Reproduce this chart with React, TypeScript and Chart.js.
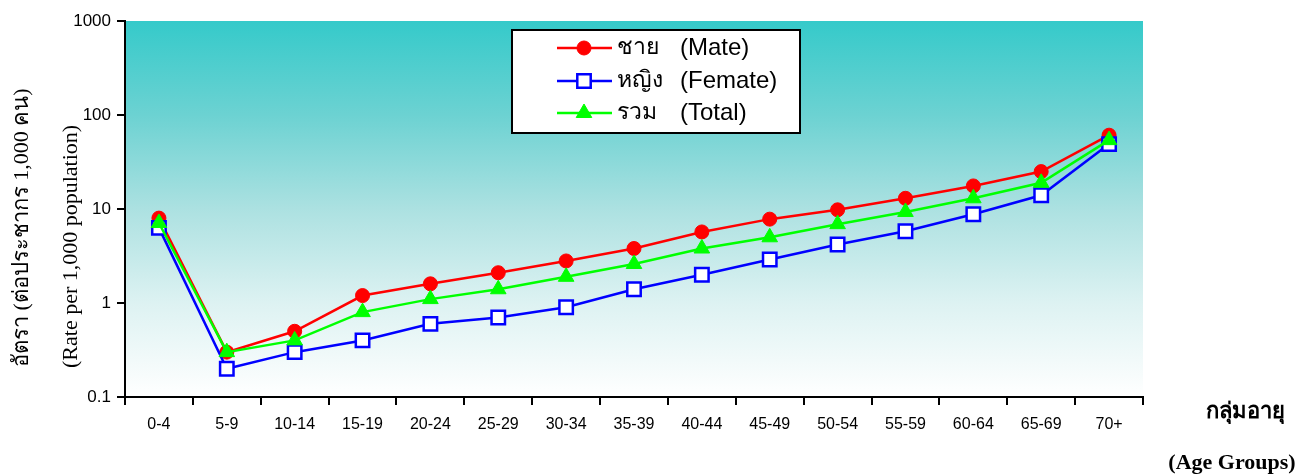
import React, { useEffect, useRef } from 'react';
import { Chart, registerables } from 'chart.js';

Chart.register(...registerables);

const categories = ['0-4', '5-9', '10-14', '15-19', '20-24', '25-29', '30-34', '35-39', '40-44', '45-49', '50-54', '55-59', '60-64', '65-69', '70+'];
const maleValues = [8, 0.3, 0.5, 1.2, 1.6, 2.1, 2.8, 3.8, 5.7, 7.8, 9.8, 13, 17.6, 25, 61];
const femaleValues = [6.3, 0.2, 0.3, 0.4, 0.6, 0.7, 0.9, 1.4, 2.0, 2.9, 4.2, 5.8, 8.8, 14, 49];
const totalValues = [7.1, 0.3, 0.4, 0.8, 1.1, 1.4, 1.9, 2.6, 3.8, 5.0, 6.9, 9.3, 13, 19, 54];
const yTickValues = [0.1, 1, 10, 100, 1000];
const legendThai = ['ชาย', 'หญิง', 'รวม'];
const legendEnglish = ['(Mate)', '(Femate)', '(Total)'];
const yTitleThai = 'อัตรา (ต่อประชากร 1,000 คน)';
const yTitleEnglish = '(Rate per 1,000 population)';
const xTitleThai = 'กลุ่มอายุ';
const xTitleEnglish = '(Age Groups)';

const SANS = '"Liberation Sans", Arial, "Noto Sans", sans-serif';
const SERIF = '"Liberation Serif", "Times New Roman", "DejaVu Serif", serif';

function drawMarker(ctx: CanvasRenderingContext2D, style: string, x: number, y: number, r: number, fill: string, stroke: string, bw: number) {
  ctx.save();
  ctx.beginPath();
  if (style === 'circle') {
    ctx.arc(x, y, r, 0, Math.PI * 2);
  } else if (style === 'rect') {
    const s = Math.SQRT1_2 * r;
    ctx.rect(x - s, y - s, 2 * s, 2 * s);
  } else {
    let rad = 0;
    ctx.moveTo(x + Math.sin(rad) * r, y - Math.cos(rad) * r);
    rad += (2 * Math.PI) / 3;
    ctx.lineTo(x + Math.sin(rad) * r, y - Math.cos(rad) * r);
    rad += (2 * Math.PI) / 3;
    ctx.lineTo(x + Math.sin(rad) * r, y - Math.cos(rad) * r);
    ctx.closePath();
  }
  ctx.fillStyle = fill;
  ctx.fill();
  ctx.lineWidth = bw;
  ctx.strokeStyle = stroke;
  ctx.stroke();
  ctx.restore();
}

const backgroundPlugin = {
  id: 'gradientBg',
  beforeDraw(chart: any) {
    const { ctx, chartArea: a } = chart;
    const g = ctx.createLinearGradient(0, a.top, 0, a.bottom);
    g.addColorStop(0, '#35CACA');
    g.addColorStop(0.25, '#6CD2D2');
    g.addColorStop(0.5, '#ACE1E1');
    g.addColorStop(0.75, '#DDF2F2');
    g.addColorStop(1, '#FFFFFF');
    ctx.save();
    ctx.fillStyle = g;
    ctx.fillRect(a.left, a.top, a.right - a.left, a.bottom - a.top);
    ctx.restore();
  },
};

const decorPlugin = {
  id: 'decor',
  afterDraw(chart: any) {
    const { ctx } = chart;
    ctx.save();
    // Legend box
    const bx = 512, by = 30, bw = 288, bh = 103;
    ctx.fillStyle = '#FFFFFF';
    ctx.fillRect(bx, by, bw, bh);
    ctx.lineWidth = 2;
    ctx.strokeStyle = '#000000';
    ctx.strokeRect(bx, by, bw, bh);
    const rows = [48, 81, 113];
    chart.data.datasets.forEach((ds: any) => {
      const y = rows[ds.legendRow];
      ctx.beginPath();
      ctx.moveTo(557, y);
      ctx.lineTo(612, y);
      ctx.lineWidth = 2.5;
      ctx.strokeStyle = ds.borderColor;
      ctx.stroke();
      drawMarker(ctx, ds.pointStyle, 584, y, ds.pointRadius, ds.pointBackgroundColor, ds.pointBorderColor, ds.pointBorderWidth);
      ctx.fillStyle = '#000000';
      ctx.textAlign = 'left';
      ctx.textBaseline = 'middle';
      ctx.font = `23px ${SANS}`;
      ctx.fillText(legendThai[ds.legendRow], 617, y);
      ctx.font = `24px ${SANS}`;
      ctx.fillText(legendEnglish[ds.legendRow], 680, y);
    });

    // Y axis titles (rotated)
    ctx.fillStyle = '#000000';
    ctx.font = `22px ${SERIF}`;
    ctx.textAlign = 'left';
    ctx.textBaseline = 'middle';
    ctx.save();
    ctx.translate(22, 367);
    ctx.rotate(-Math.PI / 2);
    ctx.fillText(yTitleThai, 0, 0);
    ctx.restore();
    ctx.save();
    ctx.translate(71, 368);
    ctx.rotate(-Math.PI / 2);
    ctx.fillText(yTitleEnglish, 0, 0);
    ctx.restore();

    // X axis titles
    ctx.font = `bold 22px ${SERIF}`;
    ctx.textAlign = 'center';
    ctx.fillText(xTitleThai, 1245, 412);
    ctx.fillText(xTitleEnglish, 1232, 463);
    ctx.restore();
  },
};

export default function App() {
  const ref = useRef<HTMLCanvasElement | null>(null);

  useEffect(() => {
    if (!ref.current) return;
    const chart = new Chart(ref.current, {
      type: 'line',
      data: {
        labels: categories,
        datasets: [
          {
            label: legendThai[0],
            data: maleValues,
            borderColor: '#FF0000',
            backgroundColor: '#FF0000',
            pointBackgroundColor: '#FF0000',
            pointBorderColor: '#FF0000',
            pointBorderWidth: 1,
            pointStyle: 'circle',
            pointRadius: 7,
            borderWidth: 2.5,
            tension: 0,
            order: 2,
            legendRow: 0,
          } as any,
          {
            label: legendThai[1],
            data: femaleValues,
            borderColor: '#0000FF',
            backgroundColor: '#0000FF',
            pointBackgroundColor: '#FFFFFF',
            pointBorderColor: '#0000FF',
            pointBorderWidth: 2.5,
            pointStyle: 'rect',
            pointRadius: 9.5,
            borderWidth: 2.5,
            tension: 0,
            order: 1,
            legendRow: 1,
          } as any,
          {
            label: legendThai[2],
            data: totalValues,
            borderColor: '#00FF00',
            backgroundColor: '#00FF00',
            pointBackgroundColor: '#00FF00',
            pointBorderColor: '#00FF00',
            pointBorderWidth: 1,
            pointStyle: 'triangle',
            pointRadius: 9,
            borderWidth: 2.5,
            tension: 0,
            order: 0,
            legendRow: 2,
          } as any,
        ],
      },
      options: {
        animation: false,
        responsive: false,
        devicePixelRatio: 1,
        layout: { padding: { left: 0, top: 21, right: 171, bottom: 0 } },
        plugins: {
          legend: { display: false },
          tooltip: { enabled: false },
          title: { display: false },
        },
        scales: {
          x: {
            type: 'category',
            offset: true,
            grid: {
              offset: true,
              drawOnChartArea: false,
              drawTicks: true,
              tickLength: 8,
              color: '#000000',
              lineWidth: 2,
            },
            border: { display: true, color: '#000000', width: 2 },
            ticks: {
              color: '#000000',
              font: { family: SANS, size: 16 },
              padding: 10,
              maxRotation: 0,
              autoSkip: false,
            },
            afterFit: (s: any) => {
              s.height = 78;
            },
          },
          y: {
            type: 'logarithmic',
            min: 0.1,
            max: 1000,
            afterBuildTicks: (s: any) => {
              s.ticks = yTickValues.map((v) => ({ value: v, major: true }));
            },
            grid: {
              drawOnChartArea: false,
              drawTicks: true,
              tickLength: 8,
              color: '#000000',
              lineWidth: 2,
            },
            border: { display: true, color: '#000000', width: 2 },
            ticks: {
              color: '#000000',
              font: { family: SANS, size: 17 },
              padding: 6,
              callback: (v: any) => String(v),
            },
            afterFit: (s: any) => {
              s.width = 125;
            },
          },
        },
      } as any,
      plugins: [backgroundPlugin, decorPlugin],
    });
    return () => chart.destroy();
  }, []);

  return (
    <div style={{ position: 'fixed', left: 0, top: 0, width: 1314, height: 475, background: '#FFFFFF' }}>
      <canvas ref={ref} width={1314} height={475} style={{ display: 'block' }} />
    </div>
  );
}
